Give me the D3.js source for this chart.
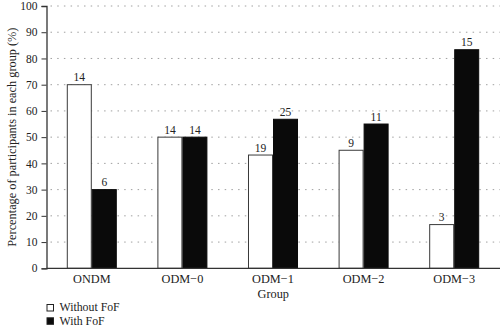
<!DOCTYPE html>
<html>
<head>
<meta charset="utf-8">
<script src="https://cdn.jsdelivr.net/npm/d3@7"></script>
<style>
  html, body { margin: 0; padding: 0; background: #fff; }
  svg { display: block; }
  text { font-family: "Liberation Serif", "DejaVu Serif", serif; fill: #222; }
</style>
</head>
<body>
<svg id="chart" width="500" height="328"></svg>
<script>
// Participant counts per group, split by fear of falling (FoF)
const groups = ["ONDM", "ODM\u22120", "ODM\u22121", "ODM\u22122", "ODM\u22123"];
const withoutFoF = [14, 14, 19, 9, 3];
const withFoF = [6, 14, 25, 11, 15];
const seriesNames = ["Without FoF", "With FoF"];
const yTicks = [0, 10, 20, 30, 40, 50, 60, 70, 80, 90, 100];

// Bars show each series as a share of the group's participants
const rows = groups.map((g, i) => {
  const total = withoutFoF[i] + withFoF[i];
  return {
    group: g,
    values: [
      { key: seriesNames[0], count: withoutFoF[i], pct: withoutFoF[i] / total * 100 },
      { key: seriesNames[1], count: withFoF[i], pct: withFoF[i] / total * 100 }
    ]
  };
});

const svg = d3.select("#chart");
const plotLeft = 46.5, plotRight = 499.5, plotTop = 6, plotBottom = 268.3;

const x0 = d3.scaleBand().domain(groups).range([plotLeft, plotRight])
  .paddingInner(0.448).paddingOuter(0.224);
const x1 = d3.scaleBand().domain(seriesNames).range([0, x0.bandwidth()]);
const y = d3.scaleLinear().domain([0, 100]).range([plotBottom, plotTop]);
const fill = d3.scaleOrdinal().domain(seriesNames).range(["#ffffff", "#0a0a0a"]);

// dotted horizontal gridlines
svg.append("g").selectAll("line")
  .data(yTicks.filter(t => t > 0))
  .join("line")
  .attr("x1", plotLeft + 4).attr("x2", 500)
  .attr("y1", d => y(d)).attr("y2", d => y(d))
  .attr("stroke", "#a0a0a0")
  .attr("stroke-width", 1)
  .attr("stroke-dasharray", "1.5,5.2");

// bars
const gGroups = svg.append("g").selectAll("g")
  .data(rows).join("g")
  .attr("transform", d => `translate(${x0(d.group)},0)`);

gGroups.selectAll("rect")
  .data(d => d.values).join("rect")
  .attr("x", d => x1(d.key) + 0.5)
  .attr("width", x1.bandwidth() - 1)
  .attr("y", d => y(d.pct))
  .attr("height", d => plotBottom - y(d.pct))
  .attr("fill", d => fill(d.key))
  .attr("stroke", d => d.key === seriesNames[0] ? "#3a3a3a" : "#0a0a0a")
  .attr("stroke-width", 1);

// count labels above bars
gGroups.selectAll("text.val")
  .data(d => d.values).join("text")
  .attr("class", "val")
  .attr("x", d => x1(d.key) + x1.bandwidth() / 2)
  .attr("y", d => y(d.pct) - 3.5)
  .attr("text-anchor", "middle")
  .attr("font-size", 11.5)
  .text(d => d.count);

// y axis
const yAxis = d3.axisLeft(y).tickValues(yTicks).tickSize(5).tickPadding(4);
const gy = svg.append("g").attr("transform", `translate(${plotLeft},0)`).call(yAxis);
gy.select(".domain").attr("stroke", "#333").attr("stroke-width", 1.3);
gy.selectAll(".tick line").attr("stroke", "#333");
gy.selectAll(".tick text").attr("font-size", 11.5).attr("font-family", "Liberation Serif, serif").attr("fill", "#222");

// x axis
const xAxis = d3.axisBottom(x0).tickSize(0).tickPadding(6);
const gx = svg.append("g").attr("transform", `translate(0,${plotBottom})`).call(xAxis);
gx.select(".domain").attr("d", `M${plotLeft},0H500`).attr("stroke", "#333").attr("stroke-width", 1.3);
gx.selectAll(".tick text").attr("font-size", 12.3).attr("font-family", "Liberation Serif, serif").attr("fill", "#222");

// axis titles
svg.append("text")
  .attr("transform", `translate(15.5,${(plotTop + plotBottom) / 2}) rotate(-90)`)
  .attr("text-anchor", "middle")
  .attr("font-size", 12.3)
  .text("Percentage of participants in each group (%)");

svg.append("text")
  .attr("x", (plotLeft + 500) / 2).attr("y", 298)
  .attr("text-anchor", "middle")
  .attr("font-size", 12.3)
  .text("Group");

// legend
const legend = svg.append("g").selectAll("g")
  .data(seriesNames).join("g")
  .attr("transform", (d, i) => `translate(46.5,${304 + i * 13.3})`);
legend.append("rect")
  .attr("x", 0.5).attr("y", 0.5).attr("width", 6.5).attr("height", 6.5)
  .attr("fill", d => fill(d))
  .attr("stroke", "#222").attr("stroke-width", 1);
legend.append("text")
  .attr("x", 13).attr("y", 7.3)
  .attr("font-size", 11.8)
  .text(d => d);
</script>
</body>
</html>
